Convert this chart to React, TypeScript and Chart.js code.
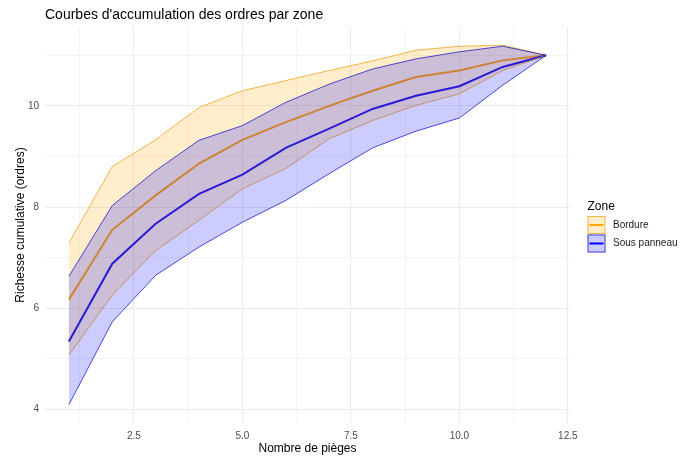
import React, { useEffect, useRef } from 'react';
import { Chart, registerables } from 'chart.js';

Chart.register(...registerables);

// ---- Data ----
const pieges = [1, 2, 3, 4, 5, 6, 7, 8, 9, 10, 11, 12];

const bordureMoyenne = [6.17, 7.55, 8.23, 8.86, 9.33, 9.68, 10.0, 10.3, 10.57, 10.7, 10.9, 11.0];
const bordureHaut = [7.29, 8.8, 9.33, 9.97, 10.3, 10.5, 10.7, 10.89, 11.1, 11.18, 11.2, 11.0];
const bordureBas = [5.07, 6.26, 7.14, 7.74, 8.36, 8.76, 9.35, 9.71, 10.01, 10.24, 10.7, 11.0];

const sousMoyenne = [5.34, 6.88, 7.67, 8.26, 8.64, 9.17, 9.55, 9.94, 10.2, 10.39, 10.77, 11.0];
const sousHaut = [6.63, 8.03, 8.72, 9.32, 9.61, 10.07, 10.43, 10.73, 10.93, 11.07, 11.18, 11.0];
const sousBas = [4.09, 5.73, 6.65, 7.21, 7.7, 8.13, 8.66, 9.17, 9.5, 9.76, 10.41, 11.0];

const zones = ['Bordure', 'Sous panneau'];
const xTicks = [1.25, 2.5, 3.75, 5.0, 6.25, 7.5, 8.75, 10.0, 11.25, 12.5];
const yTicks = [4, 5, 6, 7, 8, 9, 10, 11];

const titre = "Courbes d'accumulation des ordres par zone";
const titreX = 'Nombre de pièges';
const titreY = 'Richesse cumulative (ordres)';
const titreLegende = 'Zone';

// ---- Style ----
const FONT = '"Liberation Sans", Arial, sans-serif';
const ORANGE = 'rgb(255,165,0)';
const ORANGE_FILL = 'rgba(255,165,0,0.2)';
const ORANGE_EDGE = 'rgba(240,160,20,0.75)';
const BLUE = 'rgb(0,0,255)';
const BLUE_FILL = 'rgba(0,0,255,0.2)';
const BLUE_EDGE = 'rgba(20,20,200,0.75)';

const pts = (ys: number[]) => pieges.map((x, i) => ({ x, y: ys[i] }));
const isMajor = (v: number, step: number) => Math.abs(v / step - Math.round(v / step)) < 1e-9;

const decorPlugin = {
  id: 'decor',
  afterDraw(chart: any) {
    const { ctx, chartArea } = chart;
    ctx.save();
    // Title
    ctx.fillStyle = '#000';
    ctx.font = `14px ${FONT}`;
    ctx.textAlign = 'left';
    ctx.textBaseline = 'alphabetic';
    ctx.fillText(titre, chartArea.left, 19);

    // Legend
    const lx = chartArea.right + 17.5;
    ctx.font = `12px ${FONT}`;
    ctx.fillStyle = '#000';
    ctx.fillText(titreLegende, lx, 210);
    const keys = [
      { fill: ORANGE_FILL, edge: ORANGE_EDGE, line: ORANGE, label: zones[0] },
      { fill: BLUE_FILL, edge: BLUE_EDGE, line: BLUE, label: zones[1] },
    ];
    const size = 18;
    keys.forEach((k, i) => {
      const ky = 216 + i * 18.5;
      ctx.fillStyle = k.fill;
      ctx.fillRect(lx, ky, size, size);
      ctx.strokeStyle = k.edge;
      ctx.lineWidth = 1;
      ctx.strokeRect(lx + 0.5, ky + 0.5, size - 1, size - 1);
      ctx.strokeStyle = k.line;
      ctx.lineWidth = 2;
      ctx.beginPath();
      ctx.moveTo(lx + 2, ky + size / 2);
      ctx.lineTo(lx + size - 2, ky + size / 2);
      ctx.stroke();
      ctx.fillStyle = '#1a1a1a';
      ctx.font = `10px ${FONT}`;
      ctx.textBaseline = 'middle';
      ctx.fillText(k.label, lx + 25.5, ky + size / 2);
      ctx.textBaseline = 'alphabetic';
    });
    ctx.restore();
  },
};

export default function App() {
  const ref = useRef<HTMLCanvasElement | null>(null);

  useEffect(() => {
    if (!ref.current) return;
    const line = { pointRadius: 0, pointHoverRadius: 0, tension: 0 };
    const chart = new Chart(ref.current, {
      type: 'line',
      data: {
        datasets: [
          { ...line, label: zones[0], data: pts(bordureMoyenne), borderColor: ORANGE, borderWidth: 2, fill: false, order: 8 },
          { ...line, label: zones[1], data: pts(sousMoyenne), borderColor: BLUE, borderWidth: 2, fill: false, order: 7 },
          { ...line, label: 'bordure haut', data: pts(bordureHaut), borderColor: ORANGE_EDGE, borderWidth: 1, backgroundColor: ORANGE_FILL, fill: 3, order: 6 },
          { ...line, label: 'bordure bas', data: pts(bordureBas), borderColor: ORANGE_EDGE, borderWidth: 1, fill: false, order: 5 },
          { ...line, label: 'sous haut', data: pts(sousHaut), borderColor: BLUE_EDGE, borderWidth: 1, backgroundColor: BLUE_FILL, fill: 5, order: 3 },
          { ...line, label: 'sous bas', data: pts(sousBas), borderColor: BLUE_EDGE, borderWidth: 1, fill: false, order: 2 },
        ],
      },
      options: {
        animation: false,
        responsive: false,
        maintainAspectRatio: false,
        layout: { padding: { left: 0, right: 119, top: 27, bottom: 0 } },
        plugins: {
          legend: { display: false },
          title: { display: false },
          tooltip: { enabled: false },
        },
        scales: {
          x: {
            type: 'linear',
            min: 0.45,
            max: 12.55,
            afterBuildTicks: (s: any) => { s.ticks = xTicks.map((v) => ({ value: v })); },
            afterFit: (s: any) => { s.height = 33; },
            border: { display: false },
            grid: {
              drawTicks: false,
              color: (c: any) => (isMajor(c.tick.value, 2.5) ? '#EBEBEB' : '#F4F4F4'),
              lineWidth: 1,
            },
            ticks: {
              autoSkip: false,
              maxRotation: 0,
              padding: 7,
              color: '#4D4D4D',
              font: { family: FONT, size: 10 },
              callback: (v: any) => (isMajor(Number(v), 2.5) ? Number(v).toFixed(1) : ''),
            },
            title: {
              display: true,
              text: titreX,
              color: '#000',
              font: { family: FONT, size: 12 },
              padding: { top: 0, bottom: 0 },
            },
          },
          y: {
            type: 'linear',
            min: 3.73,
            max: 11.56,
            afterBuildTicks: (s: any) => { s.ticks = yTicks.map((v) => ({ value: v })); },
            afterFit: (s: any) => { s.width = 45; },
            border: { display: false },
            grid: {
              drawTicks: false,
              color: (c: any) => (isMajor(c.tick.value, 2) ? '#EBEBEB' : '#F4F4F4'),
              lineWidth: 1,
            },
            ticks: {
              autoSkip: false,
              padding: 6,
              color: '#4D4D4D',
              font: { family: FONT, size: 10 },
              callback: (v: any) => (isMajor(Number(v), 2) ? String(v) : ''),
            },
            title: {
              display: true,
              text: titreY,
              color: '#000',
              font: { family: FONT, size: 12 },
              padding: { top: 13, bottom: 0 },
            },
          },
        },
      },
      plugins: [decorPlugin],
    } as any);
    return () => chart.destroy();
  }, []);

  return (
    <div style={{ position: 'fixed', left: 0, top: 0, width: 689, height: 456, background: '#fff' }}>
      <canvas ref={ref} width={689} height={456} style={{ width: 689, height: 456, display: 'block' }} />
    </div>
  );
}
